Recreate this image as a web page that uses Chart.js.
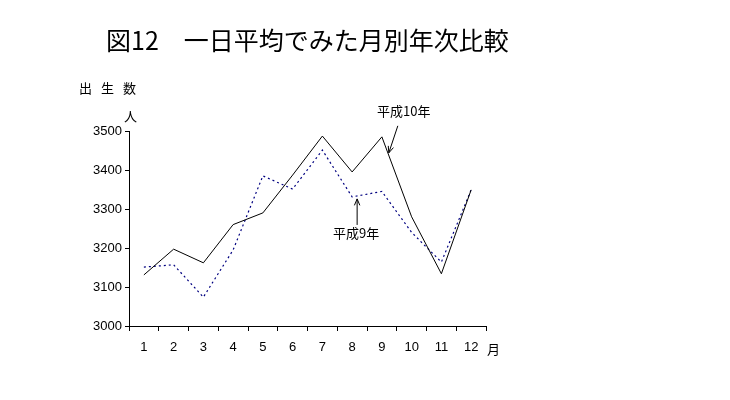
<!DOCTYPE html>
<html lang="ja">
<head>
<meta charset="utf-8">
<script src="https://cdn.jsdelivr.net/npm/chart.js@4/dist/chart.umd.min.js"></script>
<style>
  html, body { margin: 0; padding: 0; background: #fff; }
  #wrap { position: relative; width: 730px; height: 400px; overflow: hidden; }
  #c { position: absolute; left: 0; top: 0; }
  .t { position: absolute; white-space: nowrap; color: #000; font-family: "Noto Sans CJK JP", sans-serif; line-height: 1; }
</style>
</head>
<body>
<div id="wrap">
  <canvas id="c" width="730" height="400"></canvas>
  <div class="t" id="title" style="left:106px; top:27px; font-size:25px;">図12　一日平均でみた月別年次比較</div>
  <div class="t" style="left:79px; top:81px; font-size:13px; letter-spacing:9px;">出生数</div>
  <div class="t" style="left:124px; top:109px; font-size:13px;">人</div>
  <div class="t" style="left:487px; top:342px; font-size:13px;">月</div>
  <div class="t" style="left:377px; top:104px; font-size:13px;">平成10年</div>
  <div class="t" style="left:333px; top:226px; font-size:13px;">平成9年</div>
</div>
<script>
const months = ['1','2','3','4','5','6','7','8','9','10','11','12'];
const heisei10 = [3131, 3197, 3162, 3260, 3290, 3387, 3487, 3395, 3485, 3280, 3134, 3349];
const heisei9  = [3151, 3157, 3074, 3195, 3385, 3351, 3451, 3331, 3345, 3240, 3164, 3349];
const yTicks = [3000, 3100, 3200, 3300, 3400, 3500];

function arrow(ctx, x1, y1, x2, y2) {
  ctx.beginPath();
  ctx.moveTo(x1, y1);
  ctx.lineTo(x2, y2);
  ctx.stroke();
  const a = Math.atan2(y2 - y1, x2 - x1);
  const L = 7, w = 0.4;
  ctx.beginPath();
  ctx.moveTo(x2 - L * Math.cos(a - w), y2 - L * Math.sin(a - w));
  ctx.lineTo(x2, y2);
  ctx.lineTo(x2 - L * Math.cos(a + w), y2 - L * Math.sin(a + w));
  ctx.stroke();
}

const arrows = {
  id: 'arrows',
  afterDatasetsDraw(chart) {
    const ctx = chart.ctx;
    const xs = chart.scales.x, ys = chart.scales.y;
    ctx.save();
    ctx.strokeStyle = '#000';
    ctx.lineWidth = 1;
    const x9 = xs.getPixelForValue(8), x10 = xs.getPixelForValue(9);
    const y9 = ys.getPixelForValue(heisei10[8]), y10 = ys.getPixelForValue(heisei10[9]);
    const tx = x9 + (x10 - x9) * 0.2, ty = y9 + (y10 - y9) * 0.2;
    arrow(ctx, tx + 10, ty - 27, tx + 1, ty);
    const x8 = xs.getPixelForValue(7) + 5, y8 = ys.getPixelForValue(heisei9[7]) + 2;
    arrow(ctx, x8, y8 + 26, x8, y8);
    ctx.restore();
  }
};

new Chart(document.getElementById('c'), {
  type: 'line',
  data: {
    labels: months,
    datasets: [
      { label: '平成10年', data: heisei10, borderColor: '#000', borderWidth: 1, pointRadius: 0, tension: 0, fill: false },
      { label: '平成9年', data: heisei9, borderColor: '#000080', borderWidth: 1.2, borderDash: [2, 3], pointRadius: 0, tension: 0, fill: false }
    ]
  },
  options: {
    responsive: false,
    animation: false,
    events: [],
    layout: { padding: { left: 0, top: 131, right: 244, bottom: 0 } },
    plugins: { legend: { display: false }, title: { display: false }, tooltip: { enabled: false } },
    scales: {
      x: {
        type: 'category',
        offset: true,
        grid: { display: true, drawOnChartArea: false, drawTicks: true, tickLength: 5, offset: true, color: '#000', lineWidth: 1 },
        border: { display: true, color: '#000', width: 1 },
        ticks: { color: '#000', padding: 9, maxRotation: 0, autoSkip: false, font: { family: 'Liberation Sans, Arial, sans-serif', size: 13 } },
        afterFit(scale) { scale.height = 74; }
      },
      y: {
        min: 3000, max: 3500,
        afterBuildTicks(scale) { scale.ticks = yTicks.map(v => ({ value: v })); },
        grid: { display: true, drawOnChartArea: false, drawTicks: true, tickLength: 4, color: '#000', lineWidth: 1 },
        border: { display: true, color: '#000', width: 1 },
        ticks: { color: '#000', padding: 3, callback: v => String(v), font: { family: 'Liberation Sans, Arial, sans-serif', size: 13 } },
        afterFit(scale) { scale.width = 129; }
      }
    }
  },
  plugins: [arrows]
});
</script>
</body>
</html>
